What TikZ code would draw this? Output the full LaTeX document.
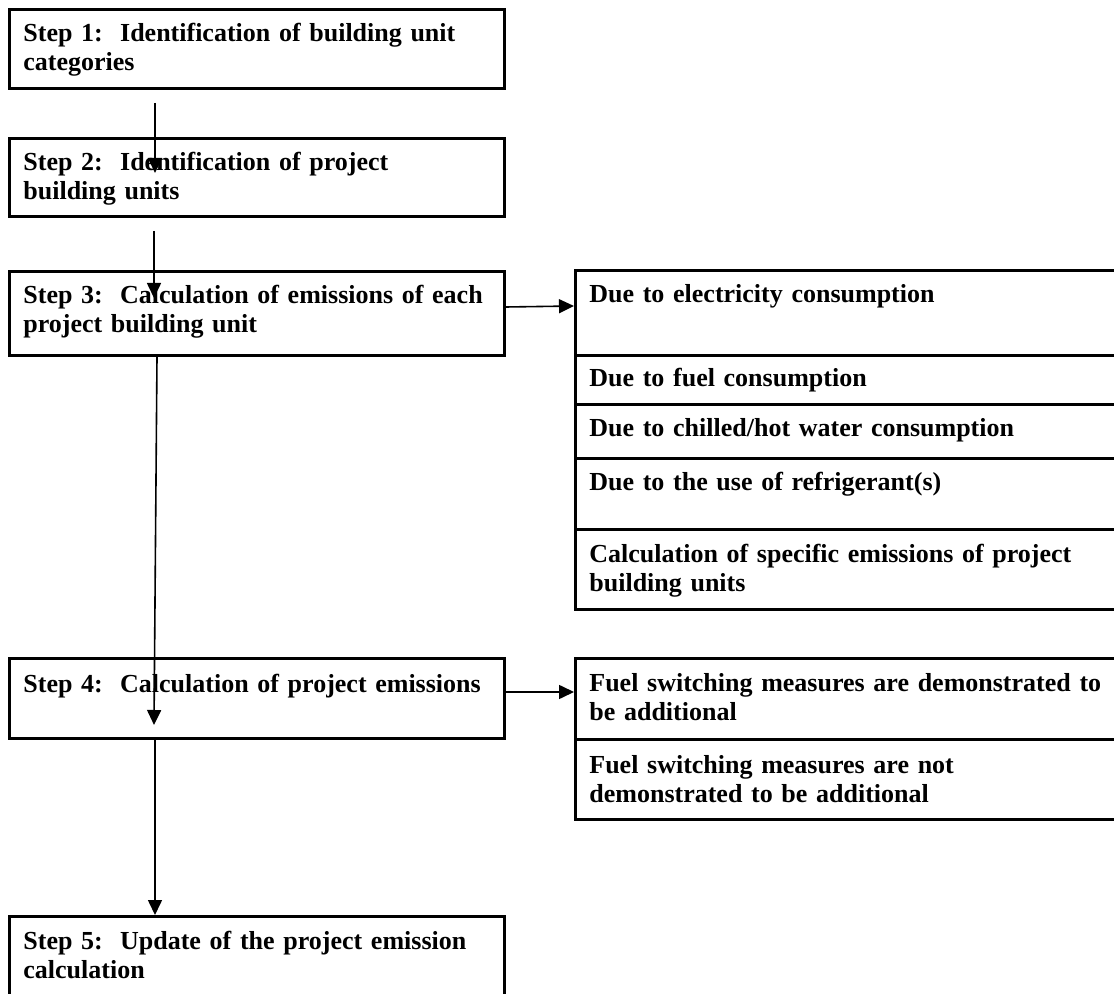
\documentclass[tikz,border=0pt]{standalone}
\usepackage{fontspec}
\setmainfont{Liberation Serif}
\usetikzlibrary{arrows.meta,calc}
\begin{document}
\begin{tikzpicture}[x=0.5pt,y=-0.5pt,
  box/.style={draw,line width=1.5pt,inner sep=0pt,anchor=north west},
  lbl/.style={anchor=base west,inner sep=0pt,align=left,text width=260pt,
    font=\fontsize{13}{14.5}\selectfont\bfseries},
  arr/.style={line width=0.8pt,-{Triangle[length=7.5pt,width=7pt]}}]
\clip (0,0) rectangle (1114,994);
% left column boxes
\node[box,minimum width=247.5pt,minimum height=39.5pt] (s1) at (8,8) {};
\node[box,minimum width=247.5pt,minimum height=39pt] (s2) at (8,137) {};
\node[box,minimum width=247.5pt,minimum height=42pt] (s3) at (8,270) {};
\node[box,minimum width=247.5pt,minimum height=40pt] (s4) at (8,657) {};
\node[box,minimum width=247.5pt,minimum height=50pt] (s5) at (8,915) {};
% right column boxes
\node[box,minimum width=275pt,minimum height=42.5pt] (r1) at (574,269) {};
\node[box,minimum width=275pt,minimum height=24.5pt] (r2) at (574,354) {};
\node[box,minimum width=275pt,minimum height=27pt] (r3) at (574,403) {};
\node[box,minimum width=275pt,minimum height=35.5pt] (r4) at (574,457) {};
\node[box,minimum width=275pt,minimum height=40pt] (r5) at (574,528) {};
\node[box,minimum width=275pt,minimum height=40.5pt] (f1) at (574,657) {};
\node[box,minimum width=275pt,minimum height=40pt] (f2) at (574,738) {};
% labels
\node[lbl] (s1t) at ($(s1.north west)+(15,34)$) {Step 1:\ \ Identification of building unit\\categories};
\node[lbl] (s2t) at ($(s2.north west)+(15,34)$) {Step 2:\ \ Identification of project\\building units};
\node[lbl] (s3t) at ($(s3.north west)+(15,34)$) {Step 3:\ \ Calculation of emissions of each\\project building unit};
\node[lbl] (s4t) at ($(s4.north west)+(15,35)$) {Step 4:\ \ Calculation of project emissions};
\node[lbl] (s5t) at ($(s5.north west)+(15,34)$) {Step 5:\ \ Update of the project emission\\calculation};
\node[lbl] (r1t) at ($(r1.north west)+(15,34)$) {Due to electricity consumption};
\node[lbl] (r2t) at ($(r2.north west)+(15,33)$) {Due to fuel consumption};
\node[lbl] (r3t) at ($(r3.north west)+(15,34)$) {Due to chilled/hot water consumption};
\node[lbl] (r4t) at ($(r4.north west)+(15,34)$) {Due to the use of refrigerant(s)};
\node[lbl] (r5t) at ($(r5.north west)+(15,34)$) {Calculation of specific emissions of project\\building units};
\node[lbl] (f1t) at ($(f1.north west)+(15,34)$) {Fuel switching measures are demonstrated to\\be additional};
\node[lbl] (f2t) at ($(f2.north west)+(15,35)$) {Fuel switching measures are not\\demonstrated to be additional};
% connectors
\draw[arr] ($(s1.south west)+(147,13)$) -- ($(s2.north west)+(147,36)$);
\draw[arr] ($(s2.south west)+(146,13)$) -- ($(s3.north west)+(146,28)$);
\draw[arr] ($(s3.south west)+(149,0)$) -- ($(s4.north west)+(146,68)$);
\draw[arr] ($(s4.south west)+(147,0)$) -- (s5.north west -| {$(s4.south west)+(147,0)$});
\draw[arr] ($(s3.north east)+(0,37)$) -- ($(r1.north west)+(0,37)$);
\draw[arr] ($(s4.north east)+(0,35)$) -- ($(f1.north west)+(0,35)$);
\end{tikzpicture}
\end{document}
